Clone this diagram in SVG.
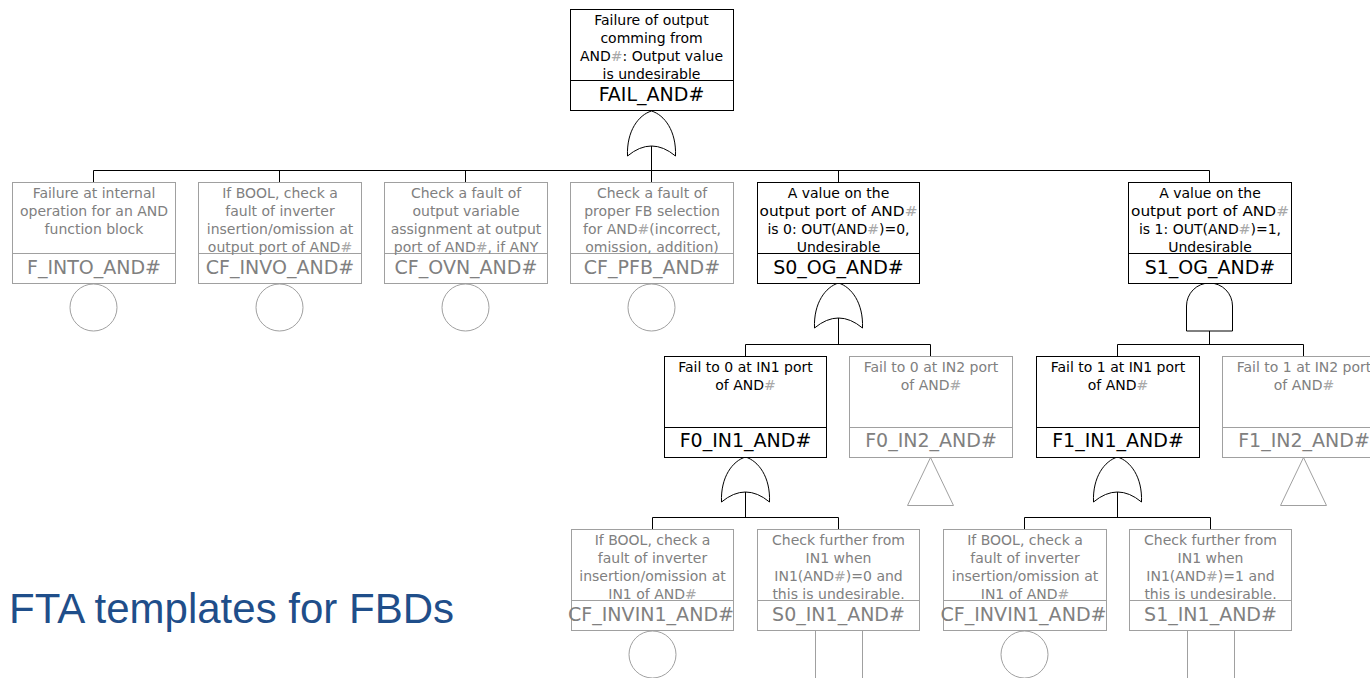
<svg xmlns="http://www.w3.org/2000/svg" xmlns:xlink="http://www.w3.org/1999/xlink" width="1370" height="678" viewBox="0 0 1370 678">
<style>
.bk{fill:#fff;stroke:#000;stroke-width:1}
.gy{fill:#fff;stroke:#a0a0a0;stroke-width:1}
.dv-bk{stroke:#000;stroke-width:1}
.dv-gy{stroke:#a0a0a0;stroke-width:1}
.d{font-family:"DejaVu Sans",Verdana,sans-serif;font-size:14px;text-anchor:middle}
.n{font-family:"DejaVu Sans",Verdana,sans-serif;font-size:19px;text-anchor:middle}
.tb{fill:#000}
.tg{fill:#808080}
.h{fill:#a8a8a8}
.con{fill:none;stroke:#000;stroke-width:1}
.cg{fill:none;stroke:#a0a0a0;stroke-width:1}
.gate{fill:#fff;stroke:#000;stroke-width:1}
.sym{fill:#fff;stroke:#a0a0a0;stroke-width:1}
.title{font-family:"Liberation Sans",Arial,sans-serif;font-size:42px;fill:#1F4E8A}
</style>
<defs>
<path id="or" d="M -24,45 C -25,20 -13,4 0,0 C 13,4 25,20 24,45 Q 0,25 -24,45 Z"/>
<path id="and" d="M -23,48 L -23,23 A 23,23 0 0 1 23,23 L 23,48 Z"/>
</defs>

<g id="connectors">
<path class="con" d="M651.5,146 V170.5 M93.5,170.5 H1209.5 M93.5,170.5 V182 M279.5,170.5 V182 M465.5,170.5 V182 M651.5,170.5 V182 M838.5,170.5 V182 M1209.5,170.5 V182"/>
<path class="con" d="M838.5,318 V344.5 M745.5,344.5 H930.5 M745.5,344.5 V356 M930.5,344.5 V356"/>
<path class="con" d="M1209.5,331 V344.5 M1117.5,344.5 H1303.5 M1117.5,344.5 V356 M1303.5,344.5 V356"/>
<path class="con" d="M745.5,492 V517.5 M652.5,517.5 H838.5 M652.5,517.5 V529 M838.5,517.5 V529"/>
<path class="con" d="M1117.5,492 V517.5 M1024.5,517.5 H1210.5 M1024.5,517.5 V529 M1210.5,517.5 V529"/>
<path class="cg" d="M815.5,631 V678 M862.5,631 V678 M1187.5,631 V678 M1234.5,631 V678"/>
</g>

<g id="gates">
<use xlink:href="#or" class="gate" x="651.5" y="111"/>
<use xlink:href="#or" class="gate" x="838.5" y="283"/>
<use xlink:href="#and" class="gate" x="1209.5" y="283"/>
<use xlink:href="#or" class="gate" x="745.5" y="457"/>
<use xlink:href="#or" class="gate" x="1117.5" y="457"/>
</g>

<g id="FAIL_AND">
<rect class="bk" x="570.5" y="9.5" width="163" height="101"/>
<line class="dv-bk" x1="570.5" y1="80.5" x2="733.5" y2="80.5"/>
<text class="d tb" x="651.5" y="25">Failure of output</text>
<text class="d tb" x="651.5" y="43">comming from</text>
<text class="d tb" x="651.5" y="61">AND<tspan class="h">#</tspan>: Output value</text>
<text class="d tb" x="651.5" y="79">is undesirable</text>
<text class="n tb" x="651.5" y="101">FAIL_AND#</text>
</g>

<g id="F_INTO_AND">
<rect class="gy" x="12.5" y="182.5" width="163" height="101"/>
<line class="dv-gy" x1="12.5" y1="253.5" x2="175.5" y2="253.5"/>
<text class="d tg" x="94" y="198">Failure at internal</text>
<text class="d tg" x="94" y="216">operation for an AND</text>
<text class="d tg" x="94" y="234">function block</text>
<text class="n tg" x="94" y="274">F_INTO_AND#</text>
<circle class="sym" cx="93.5" cy="307.5" r="23.5"/>
</g>

<g id="CF_INVO_AND">
<rect class="gy" x="198.5" y="182.5" width="163" height="101"/>
<line class="dv-gy" x1="198.5" y1="253.5" x2="361.5" y2="253.5"/>
<text class="d tg" x="280" y="198">If BOOL, check a</text>
<text class="d tg" x="280" y="216">fault of inverter</text>
<text class="d tg" x="280" y="234">insertion/omission at</text>
<text class="d tg" x="280" y="252">output port of AND<tspan class="h">#</tspan></text>
<text class="n tg" x="280" y="274">CF_INVO_AND#</text>
<circle class="sym" cx="279.5" cy="307.5" r="23.5"/>
</g>

<g id="CF_OVN_AND">
<rect class="gy" x="384.5" y="182.5" width="163" height="101"/>
<line class="dv-gy" x1="384.5" y1="253.5" x2="547.5" y2="253.5"/>
<text class="d tg" x="466" y="198">Check a fault of</text>
<text class="d tg" x="466" y="216">output variable</text>
<text class="d tg" x="466" y="234">assignment at output</text>
<text class="d tg" x="466" y="252">port of AND<tspan class="h">#</tspan>, if ANY</text>
<text class="n tg" x="466" y="274">CF_OVN_AND#</text>
<circle class="sym" cx="465.5" cy="307.5" r="23.5"/>
</g>

<g id="CF_PFB_AND">
<rect class="gy" x="570.5" y="182.5" width="163" height="101"/>
<line class="dv-gy" x1="570.5" y1="253.5" x2="733.5" y2="253.5"/>
<text class="d tg" x="652" y="198">Check a fault of</text>
<text class="d tg" x="652" y="216">proper FB selection</text>
<text class="d tg" x="652" y="234">for AND<tspan class="h">#</tspan>(incorrect,</text>
<text class="d tg" x="652" y="252">omission, addition)</text>
<text class="n tg" x="652" y="274">CF_PFB_AND#</text>
<circle class="sym" cx="651.5" cy="307.5" r="23.5"/>
</g>

<g id="S0_OG_AND">
<rect class="bk" x="757.5" y="182.5" width="162" height="101"/>
<line class="dv-bk" x1="757.5" y1="253.5" x2="919.5" y2="253.5"/>
<text class="d tb" x="838.5" y="198">A value on the</text>
<text class="d tb" x="838.5" y="216" textLength="158" lengthAdjust="spacingAndGlyphs">output port of AND<tspan class="h">#</tspan></text>
<text class="d tb" x="838.5" y="234">is 0: OUT(AND<tspan class="h">#</tspan>)=0,</text>
<text class="d tb" x="838.5" y="252">Undesirable</text>
<text class="n tb" x="838.5" y="274">S0_OG_AND#</text>
</g>

<g id="S1_OG_AND">
<rect class="bk" x="1128.5" y="182.5" width="163" height="101"/>
<line class="dv-bk" x1="1128.5" y1="253.5" x2="1291.5" y2="253.5"/>
<text class="d tb" x="1210" y="198">A value on the</text>
<text class="d tb" x="1210" y="216" textLength="158" lengthAdjust="spacingAndGlyphs">output port of AND<tspan class="h">#</tspan></text>
<text class="d tb" x="1210" y="234">is 1: OUT(AND<tspan class="h">#</tspan>)=1,</text>
<text class="d tb" x="1210" y="252">Undesirable</text>
<text class="n tb" x="1210" y="274">S1_OG_AND#</text>
</g>

<g id="F0_IN1_AND">
<rect class="bk" x="664.5" y="356.5" width="162" height="101"/>
<line class="dv-bk" x1="664.5" y1="427.5" x2="826.5" y2="427.5"/>
<text class="d tb" x="745.5" y="372">Fail to 0 at IN1 port</text>
<text class="d tb" x="745.5" y="390">of AND<tspan class="h">#</tspan></text>
<text class="n tb" x="745.5" y="447">F0_IN1_AND#</text>
</g>

<g id="F0_IN2_AND">
<rect class="gy" x="849.5" y="356.5" width="163" height="101"/>
<line class="dv-gy" x1="849.5" y1="427.5" x2="1012.5" y2="427.5"/>
<text class="d tg" x="931" y="372">Fail to 0 at IN2 port</text>
<text class="d tg" x="931" y="390">of AND<tspan class="h">#</tspan></text>
<text class="n tg" x="931" y="447">F0_IN2_AND#</text>
<polygon class="sym" points="930.5,457.5 907.5,505.5 953.5,505.5"/>
</g>

<g id="F1_IN1_AND">
<rect class="bk" x="1036.5" y="356.5" width="163" height="101"/>
<line class="dv-bk" x1="1036.5" y1="427.5" x2="1199.5" y2="427.5"/>
<text class="d tb" x="1118" y="372">Fail to 1 at IN1 port</text>
<text class="d tb" x="1118" y="390">of AND<tspan class="h">#</tspan></text>
<text class="n tb" x="1118" y="447">F1_IN1_AND#</text>
</g>

<g id="F1_IN2_AND">
<rect class="gy" x="1222.5" y="356.5" width="163" height="101"/>
<line class="dv-gy" x1="1222.5" y1="427.5" x2="1385.5" y2="427.5"/>
<text class="d tg" x="1304" y="372">Fail to 1 at IN2 port</text>
<text class="d tg" x="1304" y="390">of AND<tspan class="h">#</tspan></text>
<text class="n tg" x="1304" y="447">F1_IN2_AND#</text>
<polygon class="sym" points="1303.5,457.5 1280.5,505.5 1326.5,505.5"/>
</g>

<g id="CF_INVIN1_AND_L">
<rect class="gy" x="571.5" y="529.5" width="162" height="101"/>
<line class="dv-gy" x1="571.5" y1="600.5" x2="733.5" y2="600.5"/>
<text class="d tg" x="652.5" y="545">If BOOL, check a</text>
<text class="d tg" x="652.5" y="563">fault of inverter</text>
<text class="d tg" x="652.5" y="581">insertion/omission at</text>
<text class="d tg" x="652.5" y="599">IN1 of AND<tspan class="h">#</tspan></text>
<text class="n tg" x="651" y="621" textLength="166" lengthAdjust="spacingAndGlyphs">CF_INVIN1_AND#</text>
<circle class="sym" cx="652.5" cy="654.5" r="23.5"/>
</g>

<g id="S0_IN1_AND">
<rect class="gy" x="757.5" y="529.5" width="162" height="101"/>
<line class="dv-gy" x1="757.5" y1="600.5" x2="919.5" y2="600.5"/>
<text class="d tg" x="838.5" y="545">Check further from</text>
<text class="d tg" x="838.5" y="563">IN1 when</text>
<text class="d tg" x="838.5" y="581">IN1(AND<tspan class="h">#</tspan>)=0 and</text>
<text class="d tg" x="838.5" y="599">this is undesirable.</text>
<text class="n tg" x="838.5" y="621">S0_IN1_AND#</text>
</g>

<g id="CF_INVIN1_AND_R">
<rect class="gy" x="943.5" y="529.5" width="163" height="101"/>
<line class="dv-gy" x1="943.5" y1="600.5" x2="1106.5" y2="600.5"/>
<text class="d tg" x="1025" y="545">If BOOL, check a</text>
<text class="d tg" x="1025" y="563">fault of inverter</text>
<text class="d tg" x="1025" y="581">insertion/omission at</text>
<text class="d tg" x="1025" y="599">IN1 of AND<tspan class="h">#</tspan></text>
<text class="n tg" x="1023.5" y="621" textLength="166" lengthAdjust="spacingAndGlyphs">CF_INVIN1_AND#</text>
<circle class="sym" cx="1024.5" cy="654.5" r="23.5"/>
</g>

<g id="S1_IN1_AND">
<rect class="gy" x="1129.5" y="529.5" width="162" height="101"/>
<line class="dv-gy" x1="1129.5" y1="600.5" x2="1291.5" y2="600.5"/>
<text class="d tg" x="1210.5" y="545">Check further from</text>
<text class="d tg" x="1210.5" y="563">IN1 when</text>
<text class="d tg" x="1210.5" y="581">IN1(AND<tspan class="h">#</tspan>)=1 and</text>
<text class="d tg" x="1210.5" y="599">this is undesirable.</text>
<text class="n tg" x="1210.5" y="621">S1_IN1_AND#</text>
</g>

<text class="title" x="9" y="623">FTA templates for FBDs</text>
</svg>
